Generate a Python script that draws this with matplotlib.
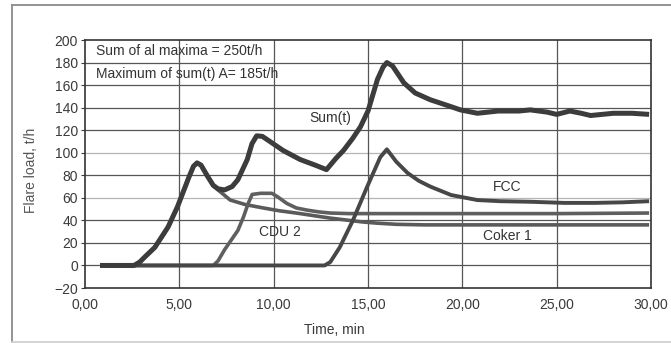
import matplotlib

matplotlib.use("Agg")
import matplotlib.pyplot as plt  # noqa: E402
from matplotlib.lines import Line2D  # noqa: E402

plt.rcParams["font.family"] = ["Liberation Sans", "DejaVu Sans"]
plt.rcParams["font.size"] = 10

# values (time in min, load in t/h)
sum_t = [0.8, 2.6, 2.9, 3.2, 3.7, 4.4, 4.9, 5.5, 5.75, 5.94, 6.15, 6.5, 6.8,
         7.05, 7.4, 7.8, 8.1, 8.6, 8.85, 9.1, 9.4, 9.8, 10.5, 11.4, 12.2,
         12.8, 13.3, 13.7, 14.2, 14.6, 15.0, 15.5, 15.8, 16.0, 16.3, 16.9,
         17.5, 18.3, 19.2, 19.9, 20.8, 21.9, 23.0, 23.6, 24.5, 25.0, 25.7,
         26.3, 26.8, 28.0, 29.0, 29.9]
sum_v = [0, 0, 3, 8, 16, 34, 52, 78, 88, 91, 89, 79, 71,
         68, 67, 70, 76, 94, 108, 115, 114.5, 110, 102, 94, 89,
         85, 95, 102, 113, 123, 137, 165, 176, 180, 177, 162,
         153, 147, 142, 138, 135, 137, 137, 138, 136, 134, 137,
         135, 133, 135, 135, 134]

coker_t = [0.8, 2.6, 2.9, 3.2, 3.7, 4.4, 4.9, 5.5, 5.75, 5.94, 6.15, 6.5, 6.8,
           7.05, 7.7, 8.5, 9.45, 10.3, 11.2, 12.0, 13.0, 14.0, 14.7, 15.5,
           16.5, 18.0, 20.0, 22.0, 25.0, 28.0, 29.9]
coker_v = [0, 0, 3, 8, 16, 34, 52, 78, 88, 91, 89, 79, 71,
           67, 58, 54, 51, 48.5, 46.5, 44.5, 42, 40, 38.6, 37.5,
           36.5, 36, 36, 36, 36, 36, 36]

cdu_t = [0.8, 6.8, 7.05, 7.4, 8.1, 8.4, 8.65, 8.86, 9.3, 9.9, 10.2, 10.7,
         11.2, 11.8, 12.4, 13.0, 14.0, 16.0, 20.0, 25.0, 29.9]
cdu_v = [0, 0, 4, 14, 31, 43, 55, 63, 64, 64, 61, 55,
         51, 49, 47.5, 46.5, 46, 46, 46, 46, 46.5]

fcc_t = [0.8, 12.7, 13.0, 13.5, 14.2, 14.96, 15.65, 16.0, 16.5, 17.1, 17.7,
         18.3, 19.4, 20.8, 22.0, 23.6, 25.4, 27.0, 28.5, 29.9]
fcc_v = [0, 0, 3, 16, 40, 70, 96, 103, 92, 82, 75,
         70, 62.5, 58, 57, 56.5, 55.5, 55.5, 56, 57]

x_ticks = [0, 5, 10, 15, 20, 25, 30]
x_labels = ["0,00", "5,00", "10,00", "15,00", "20,00", "25,00", "30,00"]
y_ticks = list(range(-20, 201, 20))
light_rows = [60, 100]

fig = plt.figure(figsize=(6.71, 3.43), dpi=100)
ax = fig.add_axes([85 / 671, 1 - 288 / 343, 566 / 671, 248 / 343])

# edges of the scanned page: top, left, bottom (no right edge)
W, H = 671, 343
for xs, ys, c in [((12, W), (338, 338), "#8a8a8a"),
                  ((12, 12), (1, 338), "#8a8a8a"),
                  ((12, W), (1.5, 1.5), "#d0d0d0")]:
    fig.lines.append(Line2D([x / W for x in xs], [y / H for y in ys],
                            transform=fig.transFigure, color=c, lw=1.3))

for y in y_ticks[1:-1]:
    c = "#b5b5b5" if y in light_rows else "#555555"
    ax.axhline(y, color=c, lw=0.9, zorder=1)
for x in x_ticks[1:-1]:
    ax.axvline(x, color="#555555", lw=0.9, zorder=1)

kw = dict(solid_joinstyle="round", solid_capstyle="butt", zorder=3)
ax.plot(coker_t, coker_v, color="#5a5a5a", lw=2.6, **kw)
ax.plot(cdu_t, cdu_v, color="#5f5f5f", lw=2.6, **kw)
ax.plot(fcc_t, fcc_v, color="#474747", lw=2.8, **kw)
ax.plot(sum_t, sum_v, color="#3c3c3c", lw=3.6, **kw)

ax.set_xlim(0, 30)
ax.set_ylim(-20, 200)
ax.set_xticks(x_ticks)
ax.set_xticklabels(x_labels)
ax.set_yticks(y_ticks)
ax.tick_params(axis="x", length=0, pad=7, labelsize=10, colors="#3a3a3a")
ax.tick_params(axis="y", length=3, pad=2, labelsize=10, colors="#3a3a3a")
for s in ax.spines.values():
    s.set_color("#333333")
    s.set_linewidth(1.2)

ax.text(0.6, 190, "Sum of al maxima = 250t/h", va="center", color="#333333")
ax.text(0.6, 170, "Maximum of sum(t) A= 185t/h", va="center", color="#333333")
ax.text(13.0, 131, "Sum(t)", ha="center", va="center", color="#333333")
ax.text(10.35, 30, "CDU 2", ha="center", va="center", color="#333333")
ax.text(22.4, 69.5, "FCC", ha="center", va="center", color="#333333")
ax.text(22.4, 26, "Coker 1", ha="center", va="center", color="#333333")

fig.text(334 / W, 1 - 330 / H, "Time, min", ha="center", va="center",
         fontsize=10, color="#3a3a3a")
fig.text(31 / W, 1 - 170 / H, "Flare load, t/h", ha="center", va="center",
         rotation=90, fontsize=10, color="#555555")

fig.savefig("out.png", dpi=100)
